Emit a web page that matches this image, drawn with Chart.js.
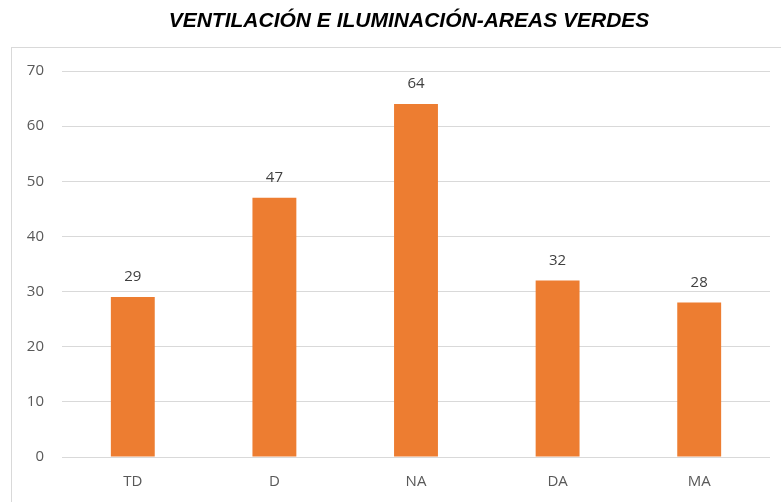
<!DOCTYPE html>
<html><head><meta charset="utf-8">
<script src="https://cdn.jsdelivr.net/npm/chart.js@4"></script>
<style>html,body{margin:0;padding:0;background:#fff;}#wrap{width:781px;height:502px;position:relative;}</style>
</head><body><div id="wrap"><canvas id="c" width="781" height="502"></canvas></div>
<script>
const chartTitle = 'VENTILACIÓN E ILUMINACIÓN-AREAS VERDES';
const categories = ['TD', 'D', 'NA', 'DA', 'MA'];
const values = [29, 47, 64, 32, 28];
const yTicks = [0, 10, 20, 30, 40, 50, 60, 70];

const FONT = '"Open Sans", "Liberation Sans", sans-serif';

const framePlugin = {
  id: 'frame',
  beforeDraw(chart) {
    const ctx = chart.ctx;
    ctx.save();
    ctx.fillStyle = '#fff';
    ctx.fillRect(0, 0, chart.width, chart.height);
    ctx.strokeStyle = '#d9d9d9';
    ctx.lineWidth = 1;
    ctx.strokeRect(11.5, 47.5, 790, 480);
    ctx.font = 'italic bold 21px "Liberation Sans", Arial, sans-serif';
    ctx.fillStyle = '#000';
    ctx.textAlign = 'center';
    ctx.textBaseline = 'middle';
    ctx.fillText(chartTitle, 409, 21);
    ctx.restore();
  }
};

const labelPlugin = {
  id: 'valueLabels',
  afterDatasetsDraw(chart) {
    const ctx = chart.ctx;
    const meta = chart.getDatasetMeta(0);
    ctx.save();
    ctx.font = '15px ' + FONT;
    ctx.fillStyle = '#404040';
    ctx.textAlign = 'center';
    ctx.textBaseline = 'middle';
    meta.data.forEach((bar, i) => {
      ctx.fillText(String(values[i]), bar.x, bar.y - 20);
    });
    ctx.restore();
  }
};

new Chart(document.getElementById('c'), {
  type: 'bar',
  data: {
    labels: categories,
    datasets: [{
      data: values,
      backgroundColor: '#ED7D31',
      categoryPercentage: 1,
      barPercentage: 0.31
    }]
  },
  options: {
    responsive: false,
    animation: false,
    devicePixelRatio: 1,
    layout: { padding: { left: 0, right: 11, top: 71, bottom: 0 } },
    plugins: { legend: { display: false }, title: { display: false }, tooltip: { enabled: false } },
    scales: {
      x: {
        grid: { display: false, drawTicks: false },
        border: { display: false },
        ticks: { color: '#595959', font: { family: FONT, size: 15 }, padding: 16 },
        afterFit(s) { s.height = 45; }
      },
      y: {
        min: 0, max: 70,
        afterBuildTicks(s) { s.ticks = yTicks.map(v => ({ value: v })); },
        grid: { color: '#d9d9d9', lineWidth: 1, drawTicks: false },
        border: { display: false },
        ticks: { color: '#595959', font: { family: FONT, size: 15 }, padding: 18 },
        afterFit(s) { s.width = 62; }
      }
    }
  },
  plugins: [framePlugin, labelPlugin]
});
</script></body></html>
